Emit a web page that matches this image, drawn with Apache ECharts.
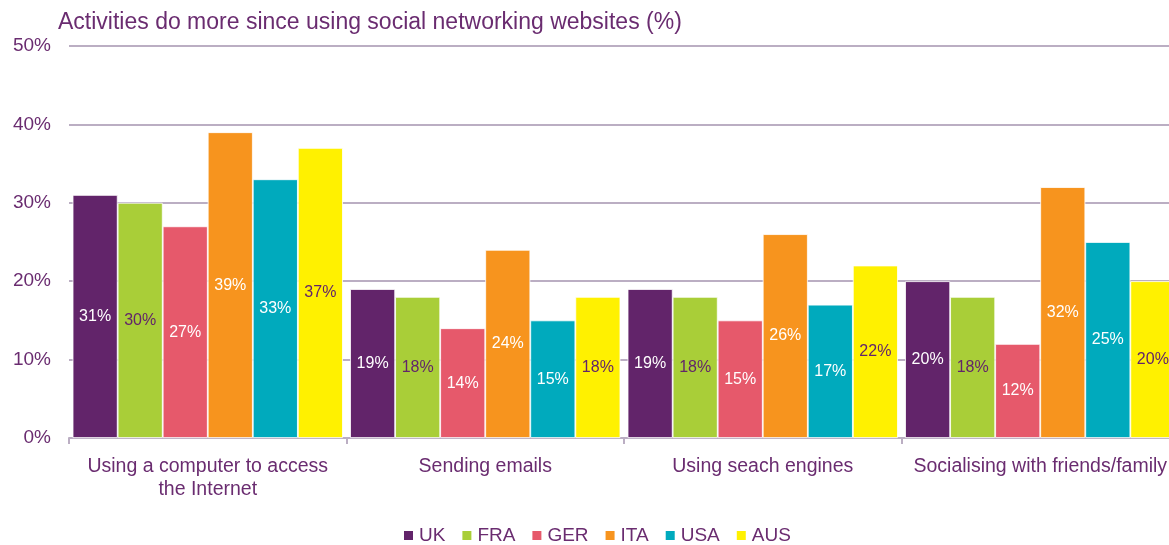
<!DOCTYPE html>
<html>
<head>
<meta charset="utf-8">
<script src="https://cdn.jsdelivr.net/npm/echarts@6/dist/echarts.min.js"></script>
<style>
  html, body { margin: 0; padding: 0; background: #fff; }
  #chart { width: 1169px; height: 545px; }
</style>
</head>
<body>
<div id="chart"></div>
<script>
// Activities people do more since using social networking websites, by country (%)
const categories = [
  'Using a computer to access\nthe Internet',
  'Sending emails',
  'Using seach engines',
  'Socialising with friends/family'
];
const countries = ['UK', 'FRA', 'GER', 'ITA', 'USA', 'AUS'];
const uk  = [31, 19, 19, 20];
const fra = [30, 18, 18, 18];
const ger = [27, 14, 15, 12];
const ita = [39, 24, 26, 32];
const usa = [33, 15, 17, 25];
const aus = [37, 18, 22, 20];
const yTicks = [0, 10, 20, 30, 40, 50];

const seriesValues = [uk, fra, ger, ita, usa, aus];
const colors = ['#62246A', '#A9CE38', '#E6596B', '#F7941E', '#00AABD', '#FFF100'];
const labelColors = ['#ffffff', '#62246A', '#ffffff', '#ffffff', '#ffffff', '#62246A'];
const textColor = '#6A2C70';
const lineColor = '#BBAEC3';
const font = 'Liberation Sans, Arial, sans-serif';

const chart = echarts.init(document.getElementById('chart'), null, { renderer: 'canvas' });

chart.setOption({
  animation: false,
  color: colors,
  textStyle: { fontFamily: font },
  title: {
    text: 'Activities do more since using social networking websites (%)',
    left: 53,
    top: 6,
    textStyle: { color: textColor, fontSize: 23, fontWeight: 'normal', fontFamily: font }
  },
  legend: {
    data: countries,
    top: 521,
    left: 397,
    icon: 'rect',
    itemWidth: 11,
    itemHeight: 11,
    itemGap: 15,
    textStyle: { color: textColor, fontSize: 19, fontFamily: font }
  },
  // the plot runs slightly past the right edge of the canvas
  grid: { left: 69, width: 1110, top: 46, bottom: 107, containLabel: false, outerBoundsMode: 'none' },
  xAxis: {
    type: 'category',
    data: categories,
    axisLine: { lineStyle: { color: lineColor, width: 2 } },
    axisTick: { show: true, length: 6, lineStyle: { color: lineColor, width: 2 } },
    axisLabel: { color: textColor, fontSize: 19.5, margin: 17, lineHeight: 23, interval: 0, fontFamily: font }
  },
  yAxis: {
    type: 'value',
    min: yTicks[0],
    max: yTicks[yTicks.length - 1],
    interval: 10,
    axisLine: { show: false },
    axisTick: { show: false },
    splitLine: { lineStyle: { color: lineColor, width: 2 } },
    axisLabel: { color: textColor, fontSize: 19, margin: 18, formatter: '{value}%', fontFamily: font }
  },
  series: countries.map((name, i) => ({
    name: name,
    type: 'bar',
    data: seriesValues[i],
    barGap: '0%',
    barCategoryGap: '2.6%',
    itemStyle: { color: colors[i], borderColor: '#ffffff', borderWidth: 0.8 },
    label: {
      show: true,
      position: 'inside',
      formatter: '{c}%',
      color: labelColors[i],
      fontSize: 16,
      fontFamily: font
    }
  }))
});
</script>
</body>
</html>
